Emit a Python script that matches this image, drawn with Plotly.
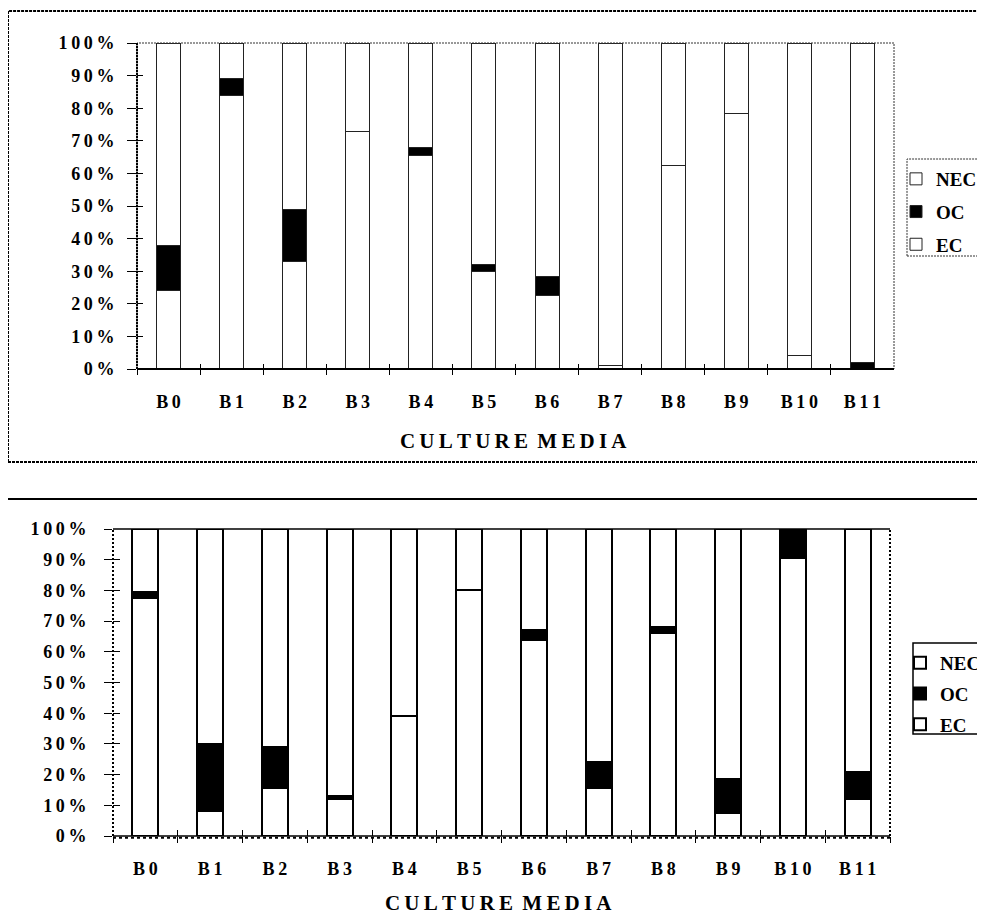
import plotly.graph_objects as go

# ---------------- data ----------------
categories = ["B0", "B1", "B2", "B3", "B4", "B5", "B6", "B7", "B8", "B9", "B10", "B11"]
series_names = ["EC", "OC", "NEC"]

top_ec = [24, 84, 33, 73, 65.5, 30, 22.5, 1, 62.5, 78.5, 4, 0]
top_oc = [14, 5, 16, 0, 2.5, 2, 6, 0, 0, 0, 0, 2]
top_nec = [62, 11, 51, 27, 32, 68, 71.5, 99, 37.5, 21.5, 96, 98]

bot_ec = [77.5, 8, 15.5, 12, 39, 80, 64, 15.5, 66, 7.5, 90.5, 12]
bot_oc = [2, 22, 13.5, 1, 0, 0, 3, 8.5, 2, 11, 8.7, 9]
bot_nec = [20.5, 70, 71, 87, 61, 20, 33, 76, 32, 81.5, 0.8, 79]

pct_ticks = [0, 10, 20, 30, 40, 50, 60, 70, 80, 90, 100]
pct_labels = ["0%", "10%", "20%", "30%", "40%", "50%", "60%", "70%", "80%", "90%", "100%"]
x_title = "CULTURE MEDIA"

# ---------------- styling helpers ----------------
OFF = 8                      # page body margin
W, H = 985 - OFF, 918 - OFF  # figure size
TS = "\u2009"                # thin space used as letter spacing


def spaced(s):
    return TS.join(list(s))


def spaced_words(s):
    return ("\u00a0" + TS).join(spaced(w) for w in s.split(" "))


def px_x(p):
    return (p - OFF) / W


def px_y(p):
    return 1 - (p - OFF) / H


FONT = "Liberation Serif, Times New Roman, serif"
tickfont = dict(family=FONT, size=18, color="black", weight="bold")
legfont = dict(family=FONT, size=19, color="black", weight="bold")

x_lab = [spaced(c) for c in categories]
pct_text = [spaced(t) for t in pct_labels]

fills = {"EC": "white", "OC": "black", "NEC": "white"}
ranks = {"NEC": 1, "OC": 2, "EC": 3}

fig = go.Figure()

top_vals = {"EC": top_ec, "OC": top_oc, "NEC": top_nec}
bot_vals = {"EC": bot_ec, "OC": bot_oc, "NEC": bot_nec}

for name in series_names:
    fig.add_trace(go.Bar(
        x=x_lab, y=top_vals[name], name=name, xaxis="x", yaxis="y",
        width=0.38, marker=dict(color=fills[name], line=dict(color="#222", width=1)),
        legend="legend", legendgroup="t" + name, legendrank=ranks[name], hoverinfo="skip",
    ))
for name in series_names:
    fig.add_trace(go.Bar(
        x=x_lab, y=bot_vals[name], name=name, xaxis="x2", yaxis="y2",
        width=0.40, marker=dict(color=fills[name], line=dict(color="black", width=2)),
        legend="legend2", legendgroup="b" + name, legendrank=ranks[name], hoverinfo="skip",
    ))

# invisible traces so the overlay tick axes are drawn
fig.add_trace(go.Scatter(x=[None], y=[None], xaxis="x3", yaxis="y3", showlegend=False, hoverinfo="skip"))
fig.add_trace(go.Scatter(x=[None], y=[None], xaxis="x4", yaxis="y4", showlegend=False, hoverinfo="skip"))

top_dom_x = [px_x(137), px_x(894)]
top_dom_y = [px_y(369), px_y(43)]
bot_dom_x = [px_x(113), px_x(890)]
bot_dom_y = [px_y(836), px_y(529)]

n = len(categories)
bounds = [i - 0.5 for i in range(n + 1)]

common_x = dict(showgrid=False, zeroline=False, showline=False, ticks="outside",
                tickcolor="black", tickwidth=1, tickfont=tickfont)
common_y = dict(showgrid=False, zeroline=False, showline=False, ticks="outside",
                tickcolor="black", tickwidth=1, tickfont=tickfont, range=[0, 100],
                tickmode="array", tickvals=pct_ticks, ticktext=pct_text)
overlay_x = dict(showgrid=False, zeroline=False, showline=False, ticks="inside",
                 tickcolor="black", tickwidth=1, showticklabels=False,
                 range=[-0.5, n - 0.5], tickmode="array", tickvals=bounds)
overlay_y = dict(showgrid=False, zeroline=False, showline=False, ticks="inside",
                 tickcolor="black", tickwidth=1, showticklabels=False,
                 range=[0, 100], tickmode="array", tickvals=pct_ticks)

fig.update_layout(
    width=W, height=H, autosize=False,
    margin=dict(l=0, r=0, t=0, b=0, pad=0, autoexpand=False),
    paper_bgcolor="white", plot_bgcolor="rgba(0,0,0,0)",
    barmode="stack",
    xaxis=dict(domain=top_dom_x, anchor="y", type="category", range=[-0.5, n - 0.5],
               tickson="boundaries", ticklen=5, ticklabelstandoff=20, **common_x),
    yaxis=dict(domain=top_dom_y, anchor="x", ticklen=9, ticklabelstandoff=9, **common_y),
    xaxis2=dict(domain=bot_dom_x, anchor="y2", type="category", range=[-0.5, n - 0.5],
                tickson="boundaries", ticklen=6, ticklabelstandoff=20, **common_x),
    yaxis2=dict(domain=bot_dom_y, anchor="x2", ticklen=8, ticklabelstandoff=14, **common_y),
    xaxis3=dict(overlaying="x", anchor="y3", ticklen=5, **overlay_x),
    yaxis3=dict(overlaying="y", anchor="x3", ticklen=6, **overlay_y),
    xaxis4=dict(overlaying="x2", anchor="y4", ticklen=6, **overlay_x),
    yaxis4=dict(overlaying="y2", anchor="x4", ticklen=7, **overlay_y),
    legend=dict(x=px_x(896), y=px_y(160), xanchor="left", yanchor="top",
                traceorder="grouped", tracegroupgap=5,
                bgcolor="rgba(0,0,0,0)", borderwidth=0, font=legfont),
    legend2=dict(x=px_x(900), y=px_y(644), xanchor="left", yanchor="top",
                 traceorder="grouped", tracegroupgap=3,
                 bgcolor="rgba(0,0,0,0)", borderwidth=0, font=legfont),
    showlegend=True,
)

shapes = []
# top panel outer frame (dotted)
shapes.append(dict(type="rect", xref="paper", yref="paper", x0=px_x(8), x1=1.02,
                   y0=px_y(462), y1=px_y(11), line=dict(color="black", width=2, dash="3px,1px")))
# top plot frame (dotted)
shapes.append(dict(type="rect", xref="x domain", yref="y domain", x0=0, x1=1, y0=0, y1=1,
                   line=dict(color="#333", width=1, dash="2px,1px")))
# top axes
shapes.append(dict(type="line", xref="x domain", yref="y domain", x0=0, x1=0, y0=0, y1=1,
                   line=dict(color="black", width=2, dash="2px,1px")))
shapes.append(dict(type="line", xref="x domain", yref="y domain", x0=0, x1=1, y0=0, y1=0,
                   line=dict(color="black", width=2)))
# top legend box
shapes.append(dict(type="rect", xref="paper", yref="paper", x0=px_x(907), x1=1.02,
                   y0=px_y(256), y1=px_y(159), line=dict(color="#333", width=1, dash="2px,1px")))

# bottom panel outer frame
shapes.append(dict(type="rect", xref="paper", yref="paper", x0=px_x(3), x1=1.02,
                   y0=-0.02, y1=px_y(499), line=dict(color="black", width=2)))
# bottom plot frame
shapes.append(dict(type="line", xref="x2 domain", yref="y2 domain", x0=0, x1=1, y0=1, y1=1,
                   line=dict(color="black", width=1.5)))
shapes.append(dict(type="line", xref="x2 domain", yref="y2 domain", x0=0, x1=0, y0=0, y1=1,
                   line=dict(color="black", width=2, dash="2px,2px")))
shapes.append(dict(type="line", xref="x2 domain", yref="y2 domain", x0=1, x1=1, y0=0, y1=1,
                   line=dict(color="black", width=2, dash="2px,2px")))
shapes.append(dict(type="line", xref="x2 domain", yref="y2 domain", x0=0, x1=1, y0=0, y1=0,
                   line=dict(color="black", width=1.5)))
shapes.append(dict(type="line", xref="x2 domain", yref="y2 domain", x0=0, x1=1, y0=-0.006, y1=-0.006,
                   line=dict(color="black", width=2, dash="3px,3px")))
# bottom legend box
shapes.append(dict(type="rect", xref="paper", yref="paper", x0=px_x(913), x1=1.02,
                   y0=px_y(734), y1=px_y(643), line=dict(color="black", width=1.5)))

fig.update_layout(shapes=shapes)

fig.add_annotation(text=spaced_words(x_title), xref="paper", yref="paper",
                   x=px_x(513), y=px_y(441), xanchor="center", yanchor="middle", showarrow=False,
                   font=dict(family=FONT, size=21, color="black", weight="bold"))
fig.add_annotation(text=spaced_words(x_title), xref="paper", yref="paper",
                   x=px_x(499), y=px_y(903), xanchor="center", yanchor="middle", showarrow=False,
                   font=dict(family=FONT, size=21, color="black", weight="bold"))

fig.write_html("out.html")
